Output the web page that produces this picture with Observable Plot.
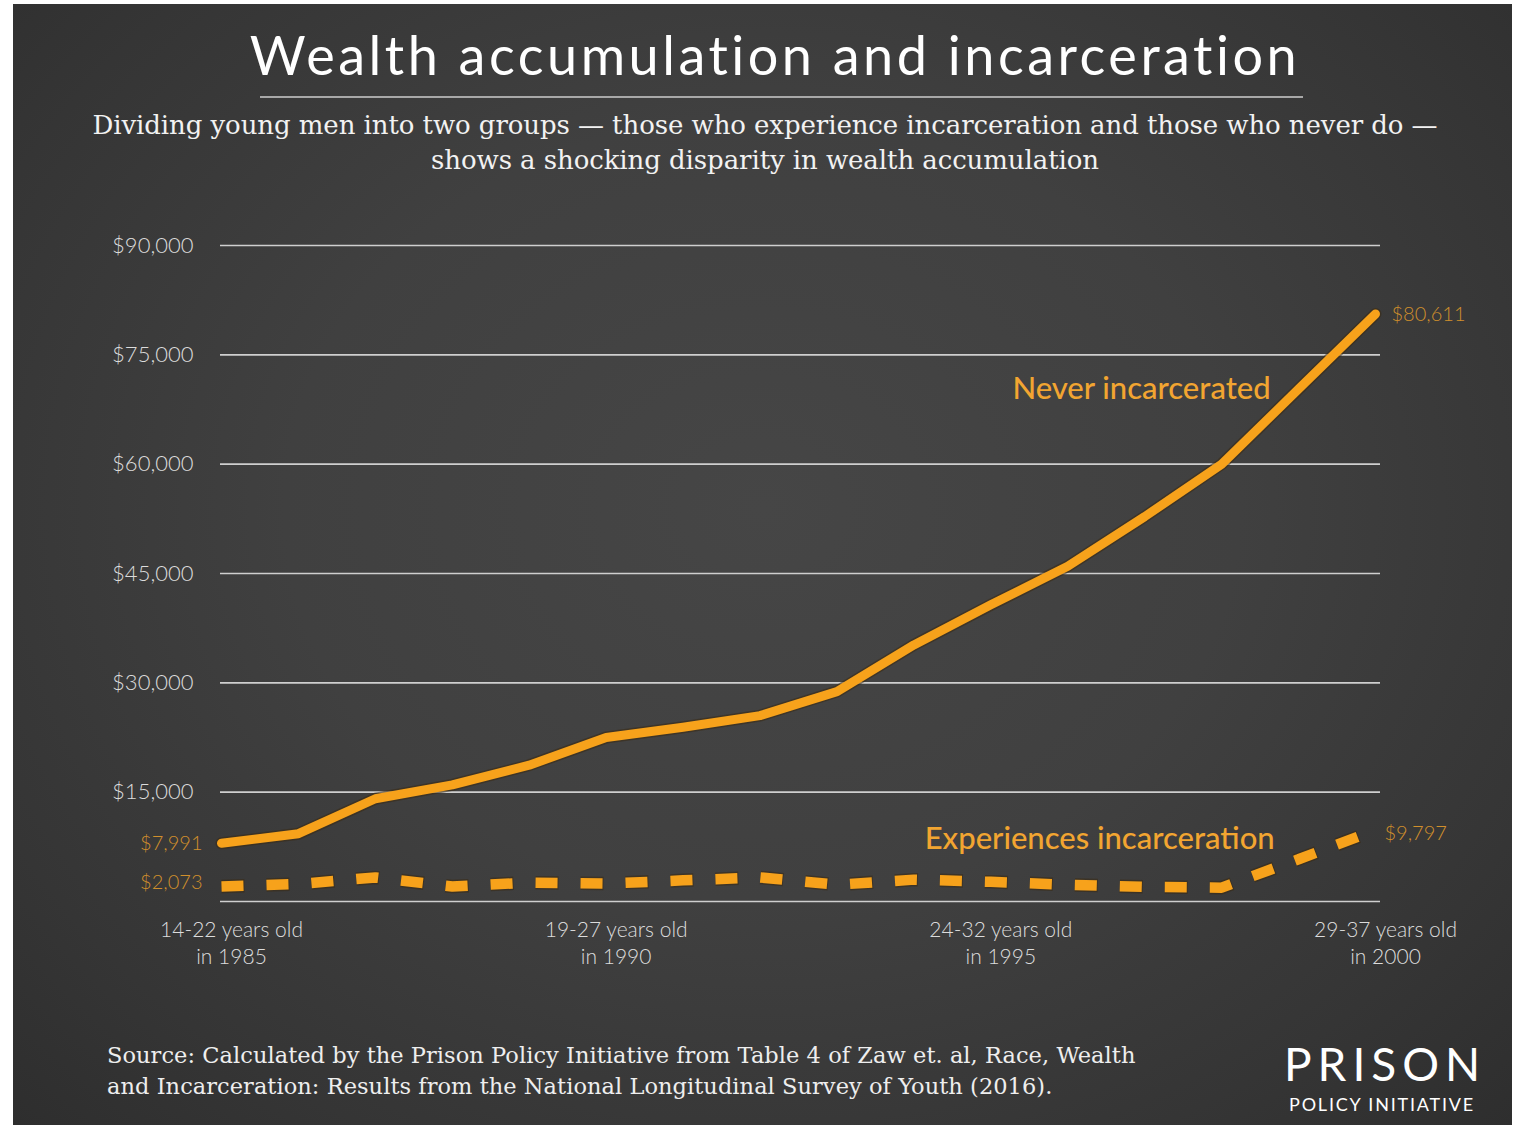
<!DOCTYPE html>
<html>
<head>
<meta charset="utf-8">
<script src="https://cdn.jsdelivr.net/npm/d3@7"></script>
<script src="https://cdn.jsdelivr.net/npm/@observablehq/plot@0.6"></script>
<style>
  html, body { margin: 0; padding: 0; background: #ffffff; }
  #page { position: relative; width: 1514px; height: 1127px; overflow: hidden; background: #ffffff; }
  #panel { position: absolute; left: 13px; top: 4px; width: 1499px; height: 1121px;
    background: radial-gradient(ellipse at 50% 45%, #464646 0%, #404040 45%, #353535 80%, #2e2e2e 100%); }
  #title { position: absolute; left: 18px; width: 1514px; top: 22px; text-align: center; color: #ffffff;
    font-family: "Lato", "Open Sans", sans-serif; font-size: 54px; letter-spacing: 3.5px; font-weight: 400; }
  #rule { position: absolute; left: 260px; top: 96px; width: 1043px; height: 2px; background: #a8a8a8; }
  #subtitle { position: absolute; left: 8px; width: 1514px; top: 108px; text-align: center; color: #f2f2f2;
    font-family: "DejaVu Serif", "Liberation Serif", serif; font-size: 26px; line-height: 35px; letter-spacing: -0.08px; }
  #chart { position: absolute; left: 0; top: 180px; }
  #source { position: absolute; left: 107px; top: 1040px; color: #eeeeee;
    font-family: "DejaVu Serif", "Liberation Serif", serif; font-size: 22.5px; line-height: 31px; letter-spacing: 0.05px; }
  .logo { position: absolute; left: 1284px; width: 196px; color: #ffffff; font-family: "Lato", "Open Sans", sans-serif; text-align: center; white-space: nowrap; }
  #logoBig { top: 1036px; font-size: 46px; letter-spacing: 6px; font-weight: 400; }
  #logoSmall { top: 1093px; font-size: 18px; letter-spacing: 1.8px; }
</style>
</head>
<body>
<div id="page">
  <div id="panel"></div>
  <div id="title">Wealth accumulation and incarceration</div>
  <div id="rule"></div>
  <div id="subtitle">Dividing young men into two groups — those who experience incarceration and those who never do —<br>shows a shocking disparity in wealth accumulation</div>
  <div id="chart"></div>
  <div id="source">Source: Calculated by the Prison Policy Initiative from Table 4 of Zaw et. al, Race, Wealth<br>and Incarceration: Results from the National Longitudinal Survey of Youth (2016).</div>
  <div class="logo" id="logoBig">PRISON</div>
  <div class="logo" id="logoSmall">POLICY INITIATIVE</div>
</div>
<script>
// ---- Data ----
const years = [1985, 1986, 1987, 1988, 1989, 1990, 1991, 1992, 1993, 1994, 1995, 1996, 1997, 1998, 1999, 2000];
const neverIncarcerated = [7991, 9300, 14100, 16000, 18700, 22500, 23900, 25500, 28800, 35200, 40700, 46000, 52800, 60000, 70300, 80611];
const experiencesIncarceration = [2073, 2400, 3300, 2050, 2600, 2450, 2900, 3300, 2300, 3000, 2700, 2300, 2000, 1900, 5800, 9797];
const yTicks = [0, 15000, 30000, 45000, 60000, 75000, 90000];
const yTickLabels = [15000, 30000, 45000, 60000, 75000, 90000];
const xTicks = [1985, 1990, 1995, 2000];
const xTickLabels = ["14-22 years old\nin 1985", "19-27 years old\nin 1990", "24-32 years old\nin 1995", "29-37 years old\nin 2000"];
const seriesNames = ["Never incarcerated", "Experiences incarceration"];

// ---- Build table ----
const never = years.map((y, i) => ({year: y, value: neverIncarcerated[i]}));
const incar = years.map((y, i) => ({year: y, value: experiencesIncarceration[i]}));
const fmt = d => "$" + d3.format(",")(d);

const orange = "#f7a21b";
const labelGold = "#d08f2c";
const axisFont = "Lato, 'Open Sans', sans-serif";

const plot = Plot.plot({
  width: 1514,
  height: 820,
  marginTop: 65,
  marginBottom: 99,
  marginLeft: 220,
  marginRight: 134,
  insetLeft: 1,
  insetRight: 5,
  style: {background: "transparent", fontFamily: axisFont, overflow: "visible"},
  x: {domain: [1985, 2000]},
  y: {domain: [0, 90000]},
  marks: [
    Plot.ruleY(yTicks, {stroke: "#cfcfcf", strokeWidth: 1.6}),
    Plot.axisY(yTickLabels, {tickSize: 0, tickPadding: 27, tickFormat: fmt, fontSize: 22, fill: "#dcdcdc", fontWeight: 300, label: null}),
    Plot.axisX(xTicks, {tickSize: 0, tickPadding: 16, dx: 10, tickFormat: d => xTickLabels[xTicks.indexOf(d)], fontSize: 21, fill: "#dcdcdc", fontWeight: 300, lineHeight: 1.3, label: null, textAnchor: "middle"}),
    // shadows
    Plot.line(never, {x: "year", y: "value", stroke: "#3a2a12", strokeWidth: 12, strokeOpacity: 0.55}),
    Plot.line(incar, {x: "year", y: "value", stroke: "#3a2a12", strokeWidth: 13.5, strokeOpacity: 0.55, strokeDasharray: "23,22", strokeLinecap: "butt", strokeLinejoin: "miter"}),
    Plot.line(never, {x: "year", y: "value", stroke: orange, strokeWidth: 9}),
    Plot.line(incar, {x: "year", y: "value", stroke: orange, strokeWidth: 10.5, strokeDasharray: "22,23", strokeLinecap: "butt", strokeLinejoin: "miter"}),
    // series labels anchored to the 1998 points
    Plot.text([never[13]], {x: "year", y: "value", text: () => seriesNames[0], textAnchor: "end", dx: 49, dy: -75, fill: "#f2a531", fontSize: 31, fontWeight: 500, fontFamily: axisFont}),
    Plot.text([incar[13]], {x: "year", y: "value", text: () => seriesNames[1], textAnchor: "end", dx: 53, dy: -49, fill: "#f2a531", fontSize: 31, fontWeight: 500, fontFamily: axisFont}),
    // value labels
    Plot.text([never[0]], {x: "year", y: "value", text: d => fmt(d.value), textAnchor: "end", dx: -19, dy: 0, fill: labelGold, fontSize: 20, fontWeight: 300}),
    Plot.text([incar[0]], {x: "year", y: "value", text: d => fmt(d.value), textAnchor: "end", dx: -19, dy: -4, fill: labelGold, fontSize: 20, fontWeight: 300}),
    Plot.text([never[15]], {x: "year", y: "value", text: d => fmt(d.value), textAnchor: "start", dx: 16, dy: 1, fill: labelGold, fontSize: 20, fontWeight: 300}),
    Plot.text([incar[15]], {x: "year", y: "value", text: d => fmt(d.value), textAnchor: "start", dx: 9, dy: 4, fill: labelGold, fontSize: 20, fontWeight: 300})
  ]
});
document.getElementById("chart").appendChild(plot);
</script>
</body>
</html>
